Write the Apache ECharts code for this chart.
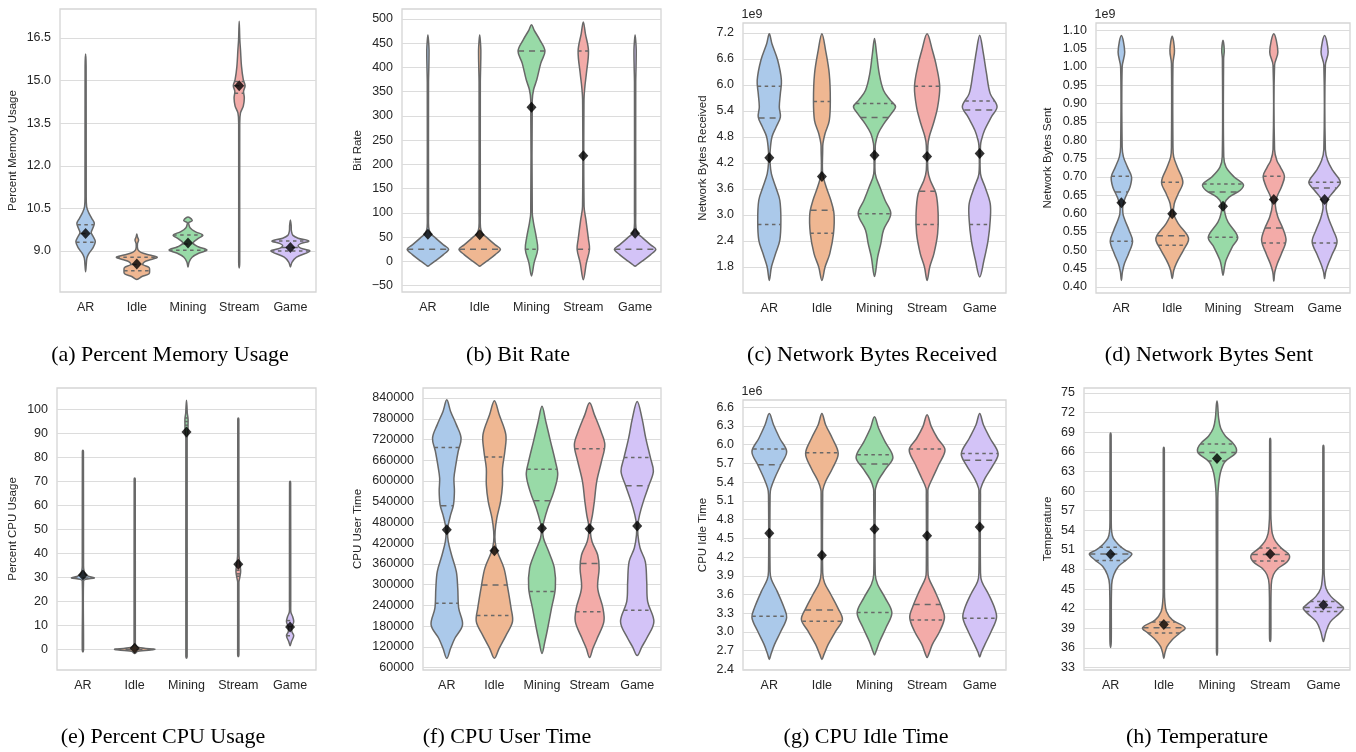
<!DOCTYPE html>
<html><head><meta charset="utf-8">
<script src="https://cdn.jsdelivr.net/npm/echarts@6/dist/echarts.min.js"></script>
<style>html,body{margin:0;padding:0;background:#fff}#c{width:1356px;height:752px}</style>
</head><body><div id="c"></div>
<script>
// ---------------- data ----------------
const categories = ['AR', 'Idle', 'Mining', 'Stream', 'Game'];

// profiles: [value, half-width as fraction of category band]
const memProfiles = [
  [[8.27,0],[8.5,0.012],[8.75,0.025],[8.9,0.06],[9.1,0.14],[9.33,0.19],[9.5,0.15],[9.65,0.11],[9.8,0.14],[9.97,0.17],[10.15,0.12],[10.35,0.06],[10.56,0.02],[11.0,0.012],[15.5,0.01],[15.94,0]],
  [[8.0,0],[8.1,0.1],[8.2,0.24],[8.32,0.25],[8.42,0.24],[8.52,0.12],[8.62,0.15],[8.7,0.28],[8.78,0.4],[8.86,0.25],[8.95,0.08],[9.05,0.02],[9.25,0.012],[9.39,0.035],[9.5,0.012],[9.6,0]],
  [[8.44,0],[8.6,0.02],[8.78,0.08],[8.93,0.22],[9.03,0.37],[9.15,0.2],[9.28,0.1],[9.42,0.18],[9.56,0.29],[9.68,0.14],[9.82,0.04],[9.95,0.015],[10.0,0.015],[10.06,0.08],[10.12,0.07],[10.2,0]],
  [[8.4,0],[8.6,0.01],[13.5,0.01],[13.86,0.025],[14.1,0.08],[14.39,0.1],[14.62,0.085],[14.82,0.115],[15.03,0.08],[15.5,0.045],[16.09,0.025],[16.44,0.012],[17.09,0]],
  [[8.44,0],[8.6,0.03],[8.78,0.12],[9.0,0.38],[9.1,0.2],[9.18,0.15],[9.26,0.2],[9.35,0.36],[9.45,0.15],[9.55,0.05],[9.7,0.02],[9.9,0.015],[10.09,0]]
];
const memQuart = [[9.31,9.62,9.92],[8.3,8.52,8.78],[9.03,9.25,9.56],[14.55,14.82,14.97],[9.0,9.12,9.35]];
const memMean = [9.62, 8.54, 9.28, 14.82, 9.12];
const memTicks = [9.0, 10.5, 12.0, 13.5, 15.0, 16.5];

const bitProfiles = [
  [[-10,0],[-8,0.03],[0,0.13],[14,0.3],[25,0.4],[34,0.3],[48,0.15],[58,0.05],[70,0.015],[100,0.012],[370,0.012],[400,0.018],[436,0.022],[455,0.012],[467,0]],
  [[-10,0],[-8,0.03],[0,0.13],[14,0.3],[25,0.4],[34,0.3],[48,0.15],[58,0.05],[70,0.015],[100,0.012],[370,0.012],[400,0.018],[436,0.022],[455,0.012],[467,0]],
  [[-30,0],[-3,0.05],[25,0.12],[51,0.09],[79,0.04],[100,0.015],[333,0.015],[354,0.04],[374,0.1],[409,0.18],[434,0.26],[457,0.16],[477,0.05],[488,0]],
  [[-38,0],[-3,0.06],[25,0.12],[45,0.1],[86,0.05],[113,0.015],[333,0.013],[360,0.03],[388,0.06],[434,0.1],[470,0.04],[494,0]],
  [[-10,0],[-8,0.03],[0,0.13],[14,0.3],[25,0.4],[34,0.3],[48,0.15],[58,0.05],[70,0.015],[100,0.012],[370,0.012],[400,0.018],[436,0.022],[455,0.012],[467,0]]
];
const bitQuart = [[25,25,25],[25,25,25],[25,434,434],[25,25,434],[25,25,25]];
const bitMean = [56, 55, 318, 218, 58];
const bitTicks = [-50, 0, 50, 100, 150, 200, 250, 300, 350, 400, 450, 500];

const recvProfiles = [
  [[1.49,0],[1.8,0.04],[2.11,0.12],[2.42,0.2],[2.88,0.22],[3.34,0.2],[3.65,0.12],[3.95,0.04],[4.2,0.015],[4.45,0.015],[4.8,0.05],[5.03,0.13],[5.26,0.21],[5.49,0.19],[5.8,0.21],[6.11,0.23],[6.57,0.16],[6.95,0.05],[7.18,0]],
  [[1.49,0],[1.8,0.06],[2.11,0.15],[2.57,0.22],[3.03,0.23],[3.34,0.17],[3.65,0.08],[3.95,0.015],[4.5,0.015],[4.65,0.02],[4.88,0.06],[5.18,0.14],[5.65,0.16],[6.26,0.14],[6.8,0.07],[7.18,0]],
  [[1.58,0],[2.03,0.06],[2.34,0.12],[2.65,0.17],[3.03,0.31],[3.34,0.2],[3.65,0.1],[3.95,0.015],[4.5,0.015],[4.65,0.02],[4.88,0.07],[5.11,0.18],[5.34,0.32],[5.5,0.4],[5.65,0.3],[5.88,0.17],[6.26,0.09],[6.72,0.04],[7.07,0]],
  [[1.49,0],[1.8,0.05],[2.11,0.13],[2.57,0.2],[3.03,0.21],[3.49,0.17],[3.8,0.06],[4.03,0.015],[4.6,0.015],[4.8,0.04],[5.11,0.12],[5.49,0.2],[5.95,0.24],[6.42,0.18],[6.8,0.1],[7.18,0]],
  [[1.57,0],[1.95,0.08],[2.42,0.16],[2.88,0.2],[3.26,0.2],[3.65,0.1],[3.95,0.015],[4.6,0.015],[4.72,0.03],[4.95,0.09],[5.26,0.22],[5.5,0.33],[5.8,0.2],[6.26,0.13],[6.8,0.06],[7.15,0]]
];
const recvQuart = [[2.78,5.24,5.97],[2.58,3.11,5.62],[3.03,5.25,5.57],[2.78,3.55,5.97],[2.78,5.42,5.63]];
const recvMean = [4.32, 3.89, 4.38, 4.35, 4.42];
const recvTicks = [1.8, 2.4, 3.0, 3.6, 4.2, 4.8, 5.4, 6.0, 6.6, 7.2];

const sentProfiles = [
  [[0.418,0],[0.441,0.02],[0.464,0.06],[0.491,0.14],[0.525,0.22],[0.555,0.15],[0.582,0.07],[0.6,0.03],[0.623,0.03],[0.645,0.08],[0.673,0.17],[0.70,0.2],[0.727,0.12],[0.755,0.04],[0.782,0.015],[1.0,0.015],[1.041,0.065],[1.086,0]],
  [[0.423,0],[0.445,0.03],[0.464,0.08],[0.5,0.22],[0.527,0.32],[0.541,0.3],[0.573,0.12],[0.6,0.03],[0.627,0.04],[0.655,0.12],[0.686,0.21],[0.727,0.1],[0.755,0.03],[0.78,0.015],[1.009,0.015],[1.045,0.045],[1.084,0]],
  [[0.432,0],[0.455,0.03],[0.473,0.06],[0.509,0.18],[0.536,0.29],[0.577,0.1],[0.6,0.04],[0.627,0.03],[0.645,0.12],[0.664,0.34],[0.68,0.4],[0.70,0.22],[0.727,0.06],[0.755,0.015],[1.023,0.012],[1.045,0.025],[1.073,0]],
  [[0.416,0],[0.441,0.02],[0.464,0.07],[0.491,0.15],[0.527,0.24],[0.559,0.18],[0.591,0.08],[0.623,0.03],[0.645,0.06],[0.673,0.15],[0.702,0.21],[0.727,0.13],[0.745,0.06],[0.775,0.015],[1.005,0.015],[1.041,0.08],[1.091,0]],
  [[0.423,0],[0.441,0.02],[0.459,0.06],[0.486,0.14],[0.523,0.245],[0.555,0.17],[0.586,0.08],[0.618,0.03],[0.641,0.07],[0.664,0.2],[0.686,0.31],[0.718,0.16],[0.745,0.06],[0.775,0.015],[1.005,0.015],[1.041,0.07],[1.086,0]]
];
const sentQuart = [[0.525,0.659,0.702],[0.514,0.540,0.686],[0.536,0.659,0.681],[0.520,0.561,0.702],[0.520,0.670,0.686]];
const sentMean = [0.630, 0.600, 0.620, 0.639, 0.639];
const sentTicks = [0.40,0.45,0.50,0.55,0.60,0.65,0.70,0.75,0.80,0.85,0.90,0.95,1.00,1.05,1.10];

const cpuProfiles = [
  [[-1,0],[0,0.012],[28.5,0.012],[29.2,0.05],[29.8,0.22],[30.4,0.12],[31.2,0.05],[33,0.02],[35,0.012],[82.5,0.01],[83,0]],
  [[-1.7,0],[-0.8,0.06],[0,0.39],[0.8,0.08],[1.8,0.02],[3,0.012],[71,0.01],[71.5,0]],
  [[-3.7,0],[-3,0.012],[88,0.012],[89.3,0.02],[91.4,0.028],[94,0.03],[96.2,0.03],[98.5,0.015],[100,0.012],[103.9,0]],
  [[-3,0],[-2,0.012],[28,0.012],[29.6,0.025],[32.4,0.045],[35,0.035],[37.5,0.02],[40,0.012],[96,0.01],[96.5,0]],
  [[1.5,0],[3.2,0.025],[5.7,0.07],[7.4,0.035],[9.4,0.035],[11.5,0.07],[13.6,0.05],[15.5,0.015],[18,0.012],[69.5,0.01],[70.1,0]]
];
const cpuQuart = [[29.8,29.8,29.8],[0,0,0],[93.5,95,96.5],[30.5,31.5,33],[5.7,9.5,12]];
const cpuMean = [31, 0.5, 90.7, 35.5, 9.3];
const cpuTicks = [0,10,20,30,40,50,60,70,80,90,100];

const userProfiles = [
  [[87000,0],[116000,0.08],[145000,0.17],[184000,0.33],[232000,0.25],[290000,0.23],[338000,0.2],[386000,0.1],[425000,0.03],[454000,0.015],[473000,0.03],[502000,0.08],[531000,0.14],[570000,0.16],[608000,0.15],[647000,0.19],[686000,0.24],[724000,0.3],[763000,0.2],[801000,0.08],[835000,0]],
  [[87000,0],[116000,0.1],[155000,0.25],[193000,0.38],[232000,0.35],[299000,0.27],[348000,0.2],[396000,0.06],[425000,0.015],[454000,0.015],[492000,0.05],[541000,0.13],[589000,0.17],[637000,0.17],[686000,0.22],[734000,0.24],[792000,0.1],[832000,0]],
  [[101000,0],[135000,0.06],[174000,0.12],[232000,0.2],[290000,0.28],[348000,0.26],[396000,0.14],[435000,0.03],[464000,0.015],[483000,0.04],[521000,0.12],[570000,0.25],[618000,0.33],[657000,0.28],[714000,0.18],[772000,0.08],[816000,0]],
  [[89000,0],[116000,0.07],[145000,0.16],[193000,0.3],[232000,0.28],[290000,0.17],[348000,0.2],[386000,0.17],[425000,0.05],[454000,0.015],[473000,0.02],[502000,0.06],[541000,0.1],[599000,0.15],[657000,0.25],[705000,0.32],[743000,0.24],[792000,0.1],[826000,0]],
  [[95000,0],[121000,0.1],[145000,0.2],[193000,0.35],[251000,0.22],[309000,0.2],[367000,0.17],[406000,0.06],[444000,0.015],[473000,0.015],[502000,0.05],[541000,0.13],[589000,0.25],[628000,0.34],[666000,0.28],[724000,0.18],[782000,0.1],[830000,0]]
];
const userQuart = [[246000,528000,697000],[211000,299000,669000],[280000,543000,634000],[222000,361000,693000],[226000,586000,668000]];
const userMean = [459000, 398000, 463000, 462000, 470000];
const userTicks = [60000,120000,180000,240000,300000,360000,420000,480000,540000,600000,660000,720000,780000,840000];

const idleProfiles = [
  [[2.56,0],[2.64,0.03],[2.8,0.1],[3.01,0.22],[3.23,0.33],[3.39,0.28],[3.65,0.15],[3.84,0.04],[3.97,0.015],[5.2,0.015],[5.3,0.03],[5.46,0.1],[5.68,0.22],[5.89,0.33],[6.1,0.2],[6.32,0.08],[6.5,0]],
  [[2.56,0],[2.64,0.04],[2.8,0.12],[3.01,0.26],[3.2,0.39],[3.39,0.3],[3.6,0.17],[3.79,0.05],[3.95,0.015],[5.2,0.015],[5.28,0.02],[5.41,0.07],[5.62,0.2],[5.86,0.31],[6.1,0.2],[6.32,0.07],[6.5,0]],
  [[2.63,0],[2.69,0.03],[2.85,0.1],[3.07,0.22],[3.31,0.33],[3.55,0.2],[3.76,0.06],[3.92,0.015],[5.2,0.015],[5.3,0.02],[5.44,0.08],[5.62,0.22],[5.8,0.35],[6.05,0.2],[6.26,0.08],[6.45,0]],
  [[2.59,0],[2.64,0.03],[2.8,0.1],[3.01,0.24],[3.23,0.33],[3.41,0.27],[3.65,0.15],[3.87,0.03],[4.0,0.015],[5.2,0.015],[5.3,0.02],[5.46,0.1],[5.68,0.22],[5.92,0.34],[6.1,0.2],[6.29,0.08],[6.48,0]],
  [[2.6,0],[2.67,0.03],[2.8,0.1],[3.01,0.22],[3.23,0.32],[3.39,0.28],[3.6,0.17],[3.81,0.04],[3.95,0.015],[5.2,0.015],[5.3,0.02],[5.46,0.1],[5.68,0.26],[5.86,0.35],[6.1,0.2],[6.32,0.07],[6.5,0]]
];
const idleQuart = [[3.25,5.68,5.93],[3.17,3.35,5.87],[3.31,5.69,5.84],[3.19,3.44,5.93],[3.22,5.75,5.86]];
const idleMean = [4.58, 4.23, 4.65, 4.54, 4.68];
const idleTicks = [2.4,2.7,3.0,3.3,3.6,3.9,4.2,4.5,4.8,5.1,5.4,5.7,6.0,6.3,6.6];

const tempProfiles = [
  [[36.1,0],[37,0.012],[45.7,0.02],[47.2,0.06],[48.5,0.15],[49.5,0.3],[50.4,0.4],[51.0,0.27],[51.8,0.15],[52.8,0.05],[53.8,0.02],[55.4,0.012],[68.5,0.01],[68.9,0]],
  [[34.4,0],[35.2,0.02],[36.2,0.06],[37.2,0.15],[38.3,0.3],[39.1,0.4],[40.3,0.16],[41.6,0.05],[43.1,0.02],[44.6,0.012],[66.3,0.01],[66.7,0]],
  [[34.9,0],[35.5,0.01],[58.9,0.015],[61.0,0.03],[63.0,0.07],[64.5,0.15],[65.8,0.35],[66.6,0.36],[67.5,0.28],[68.4,0.16],[69.6,0.07],[71.2,0.03],[73.2,0.012],[73.8,0]],
  [[37.0,0],[37.5,0.012],[45.7,0.02],[47.2,0.06],[48.2,0.15],[49.2,0.32],[50.2,0.36],[51.2,0.22],[52.3,0.1],[53.5,0.04],[55.0,0.02],[56.5,0.012],[67.7,0.01],[68.1,0]],
  [[37.0,0],[37.5,0.02],[38.5,0.05],[40.0,0.13],[41.3,0.3],[42.1,0.38],[42.6,0.32],[43.9,0.14],[45.1,0.05],[46.7,0.02],[48.2,0.012],[66.6,0.01],[67.0,0]]
];
const tempQuart = [[49.4,50.4,51.4],[38.3,39.1,40.0],[64.6,65.9,67.2],[49.3,50.3,51.3],[41.6,42.2,43.1]];
const tempMean = [50.35, 39.6, 65.0, 50.4, 42.6];
const tempTicks = [33,36,39,42,45,48,51,54,57,60,63,66,69,72,75];

const panelTitles = ['(a) Percent Memory Usage','(b) Bit Rate','(c) Network Bytes Received','(d) Network Bytes Sent',
                     '(e) Percent CPU Usage','(f) CPU User Time','(g) CPU Idle Time','(h) Temperature'];
const yNames = ['Percent Memory Usage','Bit Rate','Network Bytes Received','Network Bytes Sent',
                'Percent CPU Usage','CPU User Time','CPU Idle Time','Temperature'];

// ---------------- style / layout ----------------
const colors = ['#abc9ea', '#efb792', '#98daa7', '#f3aba8', '#d3c3f7'];
const edge = '#686868';
const panels = [
  {p: memProfiles,  q: memQuart,  m: memMean,  t: memTicks,  d: 1, min: 7.556, max: 17.52, g: {left: 60,  top: 9,   width: 256, height: 283}, gap: 41},
  {p: bitProfiles,  q: bitQuart,  m: bitMean,  t: bitTicks,  d: 0, min: -63.2, max: 520.6, g: {left: 402, top: 9,   width: 259, height: 283}, gap: 38},
  {p: recvProfiles, q: recvQuart, m: recvMean, t: recvTicks, d: 1, min: 1.2,   max: 7.43,  g: {left: 743, top: 23,  width: 263, height: 270}, gap: 34, exp: '1e9'},
  {p: sentProfiles, q: sentQuart, m: sentMean, t: sentTicks, d: 2, min: 0.3837,max: 1.12,  g: {left: 1096,top: 23,  width: 254, height: 270}, gap: 42, exp: '1e9'},
  {p: cpuProfiles,  q: cpuQuart,  m: cpuMean,  t: cpuTicks,  d: 0, min: -8.6,  max: 109.0, g: {left: 57,  top: 388, width: 259, height: 282}, gap: 38},
  {p: userProfiles, q: userQuart, m: userMean, t: userTicks, d: 0, min: 53200, max: 868960,g: {left: 423, top: 388, width: 238, height: 282}, gap: 59},
  {p: idleProfiles, q: idleQuart, m: idleMean, t: idleTicks, d: 1, min: 2.39,  max: 6.717, g: {left: 743, top: 400, width: 263, height: 270}, gap: 34, exp: '1e6'},
  {p: tempProfiles, q: tempQuart, m: tempMean, t: tempTicks, d: 0, min: 32.64, max: 75.77, g: {left: 1084,top: 388, width: 266, height: 282}, gap: 30}
];
const captionPos = [[170,355],[518,355],[872,355],[1209,355],[163,737],[507,737],[866,737],[1197,737]];

function widthAt(prof, v) {
  for (let k = 0; k < prof.length - 1; k++) {
    const a = prof[k], b = prof[k + 1];
    if (v >= a[0] && v <= b[0]) {
      const t = b[0] === a[0] ? 0 : (v - a[0]) / (b[0] - a[0]);
      return a[1] + t * (b[1] - a[1]);
    }
  }
  return 0;
}

const grids = [], xAxes = [], yAxes = [], series = [], graphics = [];
const sans = 'Liberation Sans, Arial, sans-serif';
panels.forEach((P, gi) => {
  grids.push(Object.assign({show: true, borderColor: '#d5d5d5', borderWidth: 1.3, backgroundColor: 'transparent'}, P.g));
  xAxes.push({
    type: 'category', gridIndex: gi, data: categories, boundaryGap: true,
    axisLine: {show: false}, axisTick: {show: false}, splitLine: {show: false},
    axisLabel: {interval: 0, color: '#262626', fontSize: 12.5, fontFamily: sans, margin: 9}
  });
  yAxes.push({
    type: 'value', gridIndex: gi, min: P.min, max: P.max,
    name: yNames[gi], nameLocation: 'middle', nameRotate: 90, nameGap: P.gap,
    nameTextStyle: {color: '#262626', fontSize: 11.5, fontFamily: sans},
    axisLine: {show: false}, axisTick: {show: false, customValues: P.t},
    splitLine: {show: true, lineStyle: {color: '#dcdcdc', width: 1.2}},
    axisLabel: {customValues: P.t, color: '#262626', fontSize: 12.5, fontFamily: sans, margin: 9,
      formatter: v => v.toFixed(P.d).replace('-', '\u2212')}
  });
  series.push({
    type: 'custom', xAxisIndex: gi, yAxisIndex: gi, z: 3,
    data: categories.map((c, i) => [i, P.m[i]]),
    renderItem: function (params, api) {
      const i = params.dataIndex;
      const prof = P.p[i];
      const band = api.size([1, 0])[0];
      const cx = api.coord([i, prof[0][0]])[0];
      const right = prof.map(pt => [cx + pt[1] * band, api.coord([i, pt[0]])[1]]);
      const left = prof.slice(1, -1).reverse().map(pt => [cx - pt[1] * band, api.coord([i, pt[0]])[1]]);
      const children = [{
        type: 'polygon', shape: {points: right.concat(left), smooth: 0.35},
        style: {fill: colors[i], stroke: edge, lineWidth: 1.5}
      }];
      const q = P.q[i];
      q.forEach((v, k) => {
        if (k !== 1 && Math.abs(v - q[1]) < 1e-12) return;
        const w = widthAt(prof, v) * band;
        const y = api.coord([i, v])[1];
        children.push({
          type: 'line', shape: {x1: cx - w, y1: y, x2: cx + w, y2: y},
          style: {stroke: edge, lineWidth: 1.5, lineDash: k === 1 ? [6, 5] : [3.5, 3.5]}
        });
      });
      return {type: 'group', children: children};
    }
  });
  series.push({
    type: 'scatter', xAxisIndex: gi, yAxisIndex: gi, z: 5,
    symbol: 'diamond', symbolSize: [10, 11],
    itemStyle: {color: '#000'},
    data: categories.map((c, i) => [i, P.m[i]])
  });
  if (P.exp) {
    graphics.push({type: 'text', x: P.g.left + 9, y: P.g.top - 8,
      style: {text: P.exp, fill: '#262626', font: '12.5px ' + sans, textAlign: 'center', textVerticalAlign: 'middle'}});
  }
  graphics.push({type: 'text', x: captionPos[gi][0], y: captionPos[gi][1],
    style: {text: panelTitles[gi], fill: '#000', font: '22px "Liberation Serif", "Times New Roman", serif', textAlign: 'center', textVerticalAlign: 'middle'}});
});

const chart = echarts.init(document.getElementById('c'), null, {renderer: 'canvas'});
chart.setOption({
  backgroundColor: '#fff',
  animation: false,
  grid: grids, xAxis: xAxes, yAxis: yAxes, series: series, graphic: graphics
});
</script></body></html>
